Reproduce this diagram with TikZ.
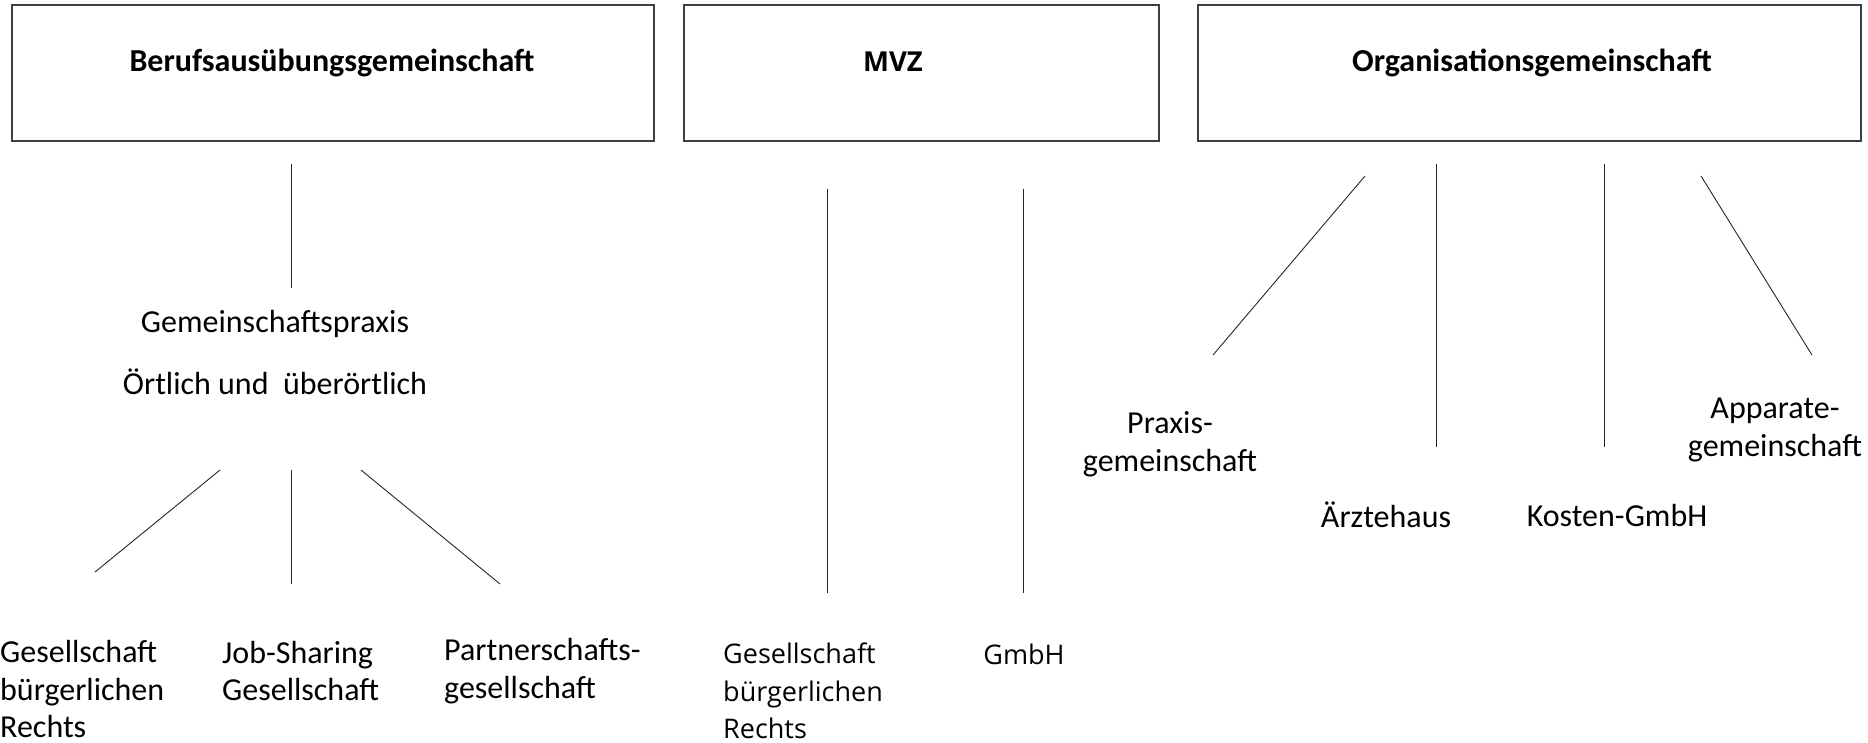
\documentclass[tikz,border=0pt]{standalone}
\usepackage{fontspec}
\setmainfont{Carlito}
\newfontfamily\segoe{Open Sans}
\begin{document}
\begin{tikzpicture}[x=1pt,y=-1pt,
  topbox/.style={draw=black!75,line width=1.1pt,minimum width=#1,minimum height=136pt,inner sep=0pt},
  title/.style={inner sep=0pt,font=\fontsize{32}{38}\selectfont\bfseries},
  lbl/.style={inner sep=0pt,font=\fontsize{32}{37.5}\selectfont},
  lbls/.style={inner sep=0pt,font=\segoe\fontsize{27}{37.5}\selectfont},
  conn/.style={draw=black!85,line width=0.9pt}]
\useasboundingbox (0,0) rectangle (1868,742);
% top boxes
\node[topbox=642pt] (bag) at (333,73) {};
\node[topbox=475pt] (mvz) at (921.5,73) {};
\node[topbox=663pt] (og) at (1529.5,73) {};
\node[title] (bagt) at (332,63) {Berufsausübungsgemeinschaft};
\node[title,font=\segoe\fontsize{27.5}{33}\selectfont\bfseries] (mvzt) at (893,62) {MVZ};
\node[title] (ogt) at (1532,63) {Organisationsgemeinschaft};
% column 1
\node[lbl] (gp) at (275,324) {Gemeinschaftspraxis};
\node[lbl] (oe) at (275,382) {Örtlich und\ \ überörtlich};
\node[lbl,anchor=west,align=left] (gbr1) at (0,689) {Gesellschaft\\bürgerlichen\\Rechts};
\node[lbl,anchor=west,align=left] (js) at (222,671) {Job-Sharing\\Gesellschaft};
\node[lbl,anchor=west,align=left] (pg) at (444,671) {Partnerschafts-\\gesellschaft};
\coordinate (c1a) at (291,164); \coordinate (c1b) at (291,288);
\coordinate (c1c) at (220,470); \coordinate (c1d) at (95,572);
\coordinate (c1e) at (291,470); \coordinate (c1f) at (291,584);
\coordinate (c1g) at (361,470); \coordinate (c1h) at (500,584);
\draw[conn] (c1a) -- (c1b);
\draw[conn] (c1c) -- (c1d);
\draw[conn] (c1e) -- (c1f);
\draw[conn] (c1g) -- (c1h);
% column 2
\node[lbls,anchor=west,align=left] (gbr2) at (723,691) {Gesellschaft\\bürgerlichen\\Rechts};
\node[lbls] (gmbh) at (1024,654) {GmbH};
\coordinate (c2a) at (827,189); \coordinate (c2b) at (827,593);
\coordinate (c2c) at (1023,189); \coordinate (c2d) at (1023,593);
\draw[conn] (c2a) -- (c2b);
\draw[conn] (c2c) -- (c2d);
% column 3
\node[lbl,align=center] (pxg) at (1170,444) {Praxis-\\gemeinschaft};
\node[lbl] (ah) at (1386,515) {Ärztehaus};
\node[lbl] (kg) at (1617,515) {Kosten-GmbH};
\node[lbl,align=center] (apg) at (1775,430) {Apparate-\\gemeinschaft};
\coordinate (c3a) at (1365,176); \coordinate (c3b) at (1213,355);
\coordinate (c3c) at (1436,164); \coordinate (c3d) at (1436,447);
\coordinate (c3e) at (1604,164); \coordinate (c3f) at (1604,447);
\coordinate (c3g) at (1701,176); \coordinate (c3h) at (1812,355);
\draw[conn] (c3a) -- (c3b);
\draw[conn] (c3c) -- (c3d);
\draw[conn] (c3e) -- (c3f);
\draw[conn] (c3g) -- (c3h);
\end{tikzpicture}
\end{document}
